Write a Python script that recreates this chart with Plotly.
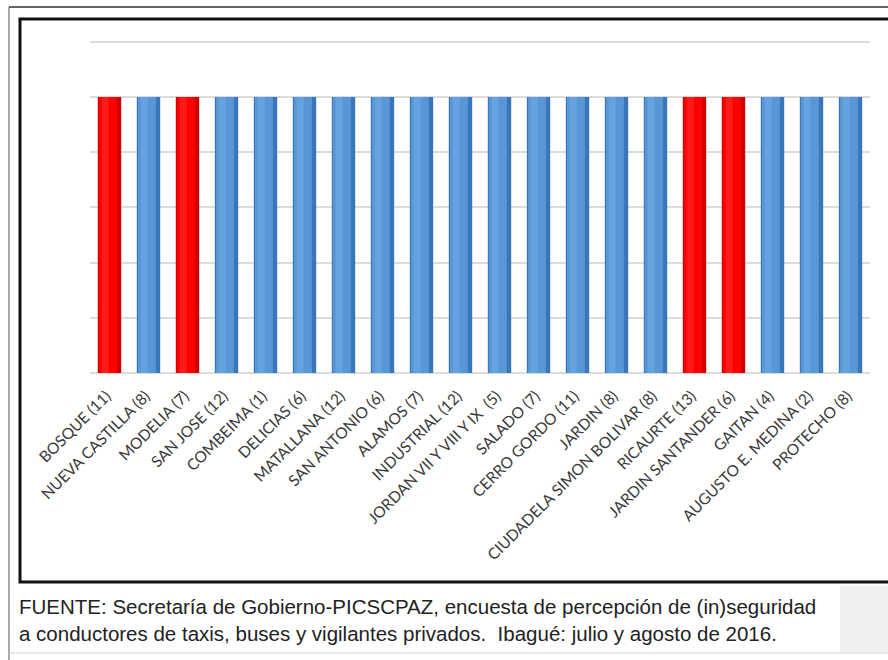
import plotly.graph_objects as go

categories = ["BOSQUE (11)", "NUEVA CASTILLA (8)", "MODELIA (7)", "SAN JOSE (12)",
              "COMBEIMA (1)", "DELICIAS (6)", "MATALLANA (12)", "SAN ANTONIO (6)",
              "ALAMOS (7)", "INDUSTRIAL (12)", "JORDAN VII Y VIII Y IX  (5)", "SALADO (7)",
              "CERRO GORDO (11)", "JARDIN (8)", "CIUDADELA SIMON BOLIVAR (8)", "RICAURTE (13)",
              "JARDIN SANTANDER (6)", "GAITAN (4)", "AUGUSTO E. MEDINA (2)", "PROTECHO (8)"]
values = [100, 100, 100, 100, 100, 100, 100, 100, 100, 100,
          100, 100, 100, 100, 100, 100, 100, 100, 100, 100]
highlighted = [True, False, True, False, False, False, False, False, False, False,
               False, False, False, False, False, True, True, False, False, False]

footnote_lines = ["FUENTE: Secretaría de Gobierno-PICSCPAZ, encuesta de percepción de (in)seguridad",
                  "a conductores de taxis, buses y vigilantes privados.  Ibagué: julio y agosto de 2016."]

W, H = 888, 660
ML, MR, MT, MB = 90, 18, 39, 287
PW, PH = W - ML - MR, H - MT - MB


def px2x(px):
    return (px - ML) / PW


def px2y(py):
    return (H - MB - py) / PH


edge_cols = ["#D00000" if h else "#3A76BA" for h in highlighted]
main_cols = ["#FF0000" if h else "#5896D6" for h in highlighted]
light_cols = ["#FF1A1A" if h else "#64A3E0" for h in highlighted]

fig = go.Figure()
fig.add_trace(go.Bar(x=categories, y=values, width=0.6, marker=dict(color=edge_cols, line=dict(width=0)),
                     hoverinfo="skip", showlegend=False))
fig.add_trace(go.Bar(x=categories, y=values, width=0.46, offset=-0.27,
                     marker=dict(color=main_cols, line=dict(width=0)), hoverinfo="skip", showlegend=False))
fig.add_trace(go.Bar(x=categories, y=values, width=0.18, offset=-0.2,
                     marker=dict(color=light_cols, line=dict(width=0)), hoverinfo="x+y", showlegend=False))

shapes = [
    # outer thin frame lines
    dict(type="line", xref="paper", yref="paper", x0=px2x(9), x1=px2x(9), y0=px2y(7), y1=px2y(660),
         line=dict(color="#555555", width=1)),
    dict(type="line", xref="paper", yref="paper", x0=px2x(9), x1=px2x(890), y0=px2y(7), y1=px2y(7),
         line=dict(color="#333333", width=1.5)),
    # grey box bottom-right
    dict(type="rect", xref="paper", yref="paper", x0=px2x(840), x1=px2x(890), y0=px2y(586), y1=px2y(652),
         line=dict(width=0), fillcolor="#F0F0F0", layer="below"),
    # bottom light line
    dict(type="line", xref="paper", yref="paper", x0=px2x(9), x1=px2x(890), y0=px2y(653), y1=px2y(653),
         line=dict(color="#D0D0D0", width=1)),
    # inner thick frame
    dict(type="rect", xref="paper", yref="paper", x0=px2x(20), x1=px2x(900), y0=px2y(19), y1=px2y(582),
         line=dict(color="#111111", width=3)),
]

annotations = []
for i, line in enumerate(footnote_lines):
    annotations.append(dict(text=line, xref="paper", yref="paper", x=px2x(17), y=px2y(606 + 27 * i),
                            xanchor="left", yanchor="middle", showarrow=False,
                            font=dict(family="Liberation Sans, Arial, sans-serif", size=20.5, color="#222222")))

fig.update_layout(
    width=W, height=H,
    margin=dict(l=ML, r=MR, t=MT, b=MB, pad=0),
    paper_bgcolor="white", plot_bgcolor="white",
    barmode="overlay", bargap=0.4,
    shapes=shapes, annotations=annotations,
    xaxis=dict(tickangle=-45, tickfont=dict(family="Lato, Open Sans, sans-serif", size=15.5, color="#3A3A3A"),
               showline=False, showgrid=False, zeroline=False, ticks="", ticklabelstandoff=10,
               ticklabelshift=-3, automargin=False),
    yaxis=dict(range=[0, 121], dtick=20, showticklabels=False, showgrid=True, gridcolor="#DCDCDC",
               gridwidth=1.5, zeroline=True, zerolinecolor="#DCDCDC", zerolinewidth=1.5, showline=False,
               automargin=False),
)

fig.write_html("out.html", config={"displayModeBar": False},
               post_script="document.body.style.margin='0px';")
